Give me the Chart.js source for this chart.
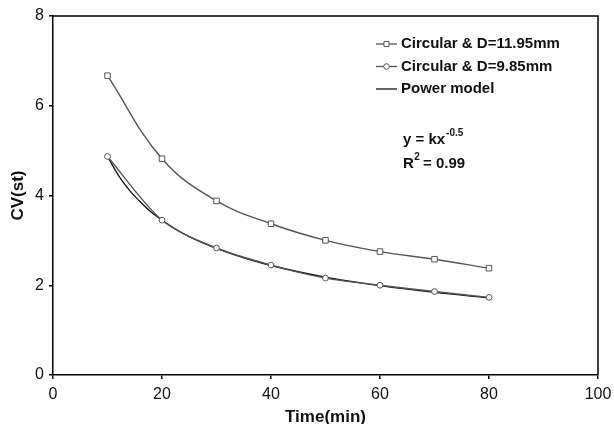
<!DOCTYPE html>
<html>
<head>
<meta charset="utf-8">
<script src="https://cdn.jsdelivr.net/npm/chart.js@4.4.0/dist/chart.umd.min.js"></script>
<style>
  html, body { margin: 0; padding: 0; background: #fff; }
  #wrap { width: 614px; height: 424px; }
</style>
</head>
<body>
<div id="wrap"><canvas id="chart" width="614" height="424"></canvas></div>
<script>
// values
const timeMin = [10, 20, 30, 40, 50, 60, 70, 80];
const cvLarge = [6.67, 4.82, 3.88, 3.37, 3.00, 2.75, 2.58, 2.38];   // D=11.95mm
const cvSmall = [4.87, 3.45, 2.83, 2.45, 2.16, 2.00, 1.86, 1.73];   // D=9.85mm
const modelTime = [10, 12, 14, 16, 18, 20, 25, 30, 35, 40, 50, 60, 70, 80];
const modelCv = [4.87, 4.45, 4.12, 3.86, 3.63, 3.45, 3.08, 2.82, 2.61, 2.44, 2.18, 1.99, 1.84, 1.72];
const xTicks = [0, 20, 40, 60, 80, 100];
const yTicks = [0, 2, 4, 6, 8];
const legendLabels = ['Circular & D=11.95mm', 'Circular & D=9.85mm', 'Power model'];

const toPoints = (xs, ys) => xs.map((x, i) => ({ x: x, y: ys[i] }));

const GREY = '#555';
const FONT = '"Liberation Sans", Arial, sans-serif';

// frame on top/right, legend and equation text
const extras = {
  id: 'extras',
  afterDraw(chart) {
    const { ctx, chartArea: a } = chart;
    ctx.save();
    ctx.strokeStyle = '#000';
    ctx.lineWidth = 1.5;
    ctx.beginPath();
    ctx.moveTo(a.left, a.top);
    ctx.lineTo(a.right, a.top);
    ctx.lineTo(a.right, a.bottom);
    ctx.stroke();

    // legend
    const styles = ['rect', 'circle', false];
    const colors = [GREY, GREY, '#111'];
    ctx.textBaseline = 'middle';
    legendLabels.forEach((label, i) => {
      const y = 44 + i * 22.5;
      ctx.strokeStyle = colors[i];
      ctx.lineWidth = 1.3;
      ctx.beginPath();
      ctx.moveTo(376, y);
      ctx.lineTo(397, y);
      ctx.stroke();
      if (styles[i]) {
        ctx.fillStyle = '#fff';
        ctx.strokeStyle = colors[i];
        ctx.lineWidth = 1;
        const st = { pointStyle: styles[i], radius: styles[i] === 'rect' ? 3.6 : 2.8, borderWidth: 1, rotation: 0 };
        Chart.helpers.drawPoint(ctx, st, 386.5, y);
      }
      ctx.fillStyle = '#111';
      ctx.font = 'bold 15px ' + FONT;
      ctx.fillText(label, 401, y);
    });

    // equation
    ctx.font = 'bold 15px ' + FONT;
    ctx.fillStyle = '#111';
    ctx.fillText('y = kx', 403, 140);
    const w1 = ctx.measureText('y = kx').width;
    ctx.font = 'bold 10px ' + FONT;
    ctx.fillText('-0.5', 403 + w1 + 1, 133);
    ctx.font = 'bold 15px ' + FONT;
    ctx.fillText('R', 403, 164);
    const w2 = ctx.measureText('R').width;
    ctx.font = 'bold 10px ' + FONT;
    ctx.fillText('2', 403 + w2 + 0.5, 157);
    ctx.font = 'bold 15px ' + FONT;
    ctx.fillText(' = 0.99', 403 + w2 + 5, 164);
    ctx.restore();
  }
};

new Chart(document.getElementById('chart'), {
  type: 'line',
  data: {
    datasets: [
      {
        label: legendLabels[0],
        data: toPoints(timeMin, cvLarge),
        borderColor: GREY,
        borderWidth: 1.4,
        pointStyle: 'rect',
        pointRadius: 3.9,
        pointBorderWidth: 1,
        pointBorderColor: GREY,
        pointBackgroundColor: '#fff',
        tension: 0.4,
        fill: false
      },
      {
        label: legendLabels[1],
        data: toPoints(timeMin, cvSmall),
        borderColor: GREY,
        borderWidth: 1.4,
        pointStyle: 'circle',
        pointRadius: 2.9,
        pointBorderWidth: 1,
        pointBorderColor: GREY,
        pointBackgroundColor: '#fff',
        tension: 0.3,
        fill: false
      },
      {
        label: legendLabels[2],
        data: toPoints(modelTime, modelCv),
        borderColor: '#111',
        borderWidth: 1.3,
        pointRadius: 0,
        cubicInterpolationMode: 'monotone',
        fill: false
      }
    ]
  },
  options: {
    responsive: false,
    animation: false,
    layout: { padding: { left: 0, right: 16, top: 16, bottom: 0 } },
    plugins: {
      legend: { display: false },
      tooltip: { enabled: false }
    },
    scales: {
      x: {
        type: 'linear',
        min: 0,
        max: 100,
        afterBuildTicks: s => { s.ticks = xTicks.map(v => ({ value: v })); },
        afterFit: s => { s.height = 49; s.paddingLeft = 0; s.paddingRight = 0; },
        grid: { display: true, drawOnChartArea: false, drawTicks: true, tickLength: 4, color: '#000', lineWidth: 1.5 },
        border: { display: true, color: '#000', width: 1.5 },
        ticks: { color: '#111', padding: 6, font: { family: FONT, size: 16 }, maxRotation: 0 },
        title: { display: true, text: 'Time(min)', color: '#111', padding: 0, font: { family: FONT, size: 17, weight: 'bold', lineHeight: 0.82 } }
      },
      y: {
        min: 0,
        max: 8,
        afterBuildTicks: s => { s.ticks = yTicks.map(v => ({ value: v })); },
        afterFit: s => { s.width = 53; s.paddingTop = 0; s.paddingBottom = 0; },
        grid: { display: true, drawOnChartArea: false, drawTicks: true, tickLength: 4, color: '#000', lineWidth: 1.5 },
        border: { display: true, color: '#000', width: 1.5 },
        ticks: { color: '#111', padding: 5, font: { family: FONT, size: 16 } },
        title: { display: true, text: 'CV(st)', color: '#111', padding: { top: 10, bottom: 0 }, font: { family: FONT, size: 17, weight: 'bold', lineHeight: 1 } }
      }
    }
  },
  plugins: [extras]
});
</script>
</body>
</html>
